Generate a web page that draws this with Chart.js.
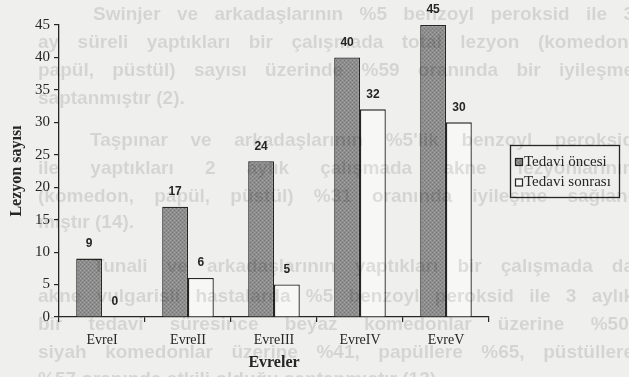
<!DOCTYPE html>
<html>
<head>
<meta charset="utf-8">
<script src="https://cdn.jsdelivr.net/npm/chart.js@4.4.1/dist/chart.umd.min.js"></script>
<style>
  html, body { margin: 0; padding: 0; background: #efefed; }
  #wrap { position: relative; width: 629px; height: 377px; overflow: hidden; background: #efefed; }
  #chart { position: absolute; left: 0; top: 0; }
  /* faint paragraph of the facing page, printed through the paper */
  #page { position: absolute; left: 0; top: 0; width: 629px; height: 377px; pointer-events: none;
          mix-blend-mode: multiply; color: rgba(0,0,0,0.11);
          font-family: "Liberation Sans", Arial, sans-serif; font-size: 19px; font-weight: bold; }
  #page div { position: absolute; height: 24px; line-height: 24px; overflow: hidden;
              white-space: normal; text-align: justify; text-align-last: justify; }
  #page div.last { text-align-last: left; }
</style>
</head>
<body>
<div id="wrap">
  <canvas id="chart" width="629" height="377"></canvas>
  <div id="page"></div>
</div>
<script>
// Lesion counts per acne stage, before and after treatment
const categories = ['EvreI', 'EvreII', 'EvreIII', 'EvreIV', 'EvreV'];
const seriesNames = ['Tedavi öncesi', 'Tedavi sonrası'];
const beforeTreatment = [9, 17, 24, 40, 45];
const afterTreatment = [0, 6, 5, 32, 30];
const yMax = 45;
const yStep = 5;
const xTitle = 'Evreler';
const yTitle = 'Lezyon sayısı';

// Paragraph lines of the page behind the figure: [text, left, centerY, isLastLine]
const pageLines = [
  ['Swinjer ve arkadaşlarının %5 benzoyl peroksid ile 3', 93, 14, false],
  ['ay süreli yaptıkları bir çalışmada total lezyon (komedon,', 38, 42, false],
  ['papül, püstül) sayısı üzerinde %59 oranında bir iyileşme', 38, 70, false],
  ['saptanmıştır (2).', 38, 98, true],
  ['Taşpınar ve arkadaşlarının %5\'lik benzoyl peroksid', 90, 140, false],
  ['ile yaptıkları 2 aylık çalışmada akne lezyonlarının', 38, 168, false],
  ['(komedon, papül, püstül) %31 oranında iyileşme sağlan-', 38, 196, false],
  ['mıştır (14).', 38, 222, true],
  ['Tunali ve arkadaşlarının yaptıkları bir çalışmada da', 93, 266, false],
  ['akne vulgarisli hastalarda %5 benzoyl peroksid ile 3 aylık', 38, 296, false],
  ['bir tedavi süresince beyaz komedonlar üzerine %50,', 38, 324, false],
  ['siyah komedonlar üzerine %41, papüllere %65, püstüllere', 38, 352, false],
  ['%57 oranında etkili olduğu saptanmıştır (13).', 38, 379, true]
];

const page = document.getElementById('page');
pageLines.forEach(([text, left, cy, last]) => {
  const d = document.createElement('div');
  d.textContent = text;
  d.style.left = left + 'px';
  d.style.width = (634 - left) + 'px';
  d.style.top = (cy - 12) + 'px';
  if (last) d.className = 'last';
  page.appendChild(d);
});

const serif = '"Liberation Serif", "Times New Roman", serif';
const ink = '#262626';

// stippled grey fill for the "before" bars
function stipple() {
  const c = document.createElement('canvas');
  c.width = 4; c.height = 4;
  const g = c.getContext('2d');
  g.fillStyle = '#8e8e8e'; g.fillRect(0, 0, 4, 4);
  g.fillStyle = '#747474'; g.fillRect(0, 0, 1, 1); g.fillRect(2, 2, 1, 1);
  g.fillStyle = '#a2a2a2'; g.fillRect(2, 0, 1, 1); g.fillRect(0, 2, 1, 1);
  return g.createPattern(c, 'repeat');
}
const darkFill = stipple();

// numbers printed above each bar
const valueLabels = {
  id: 'valueLabels',
  afterDatasetsDraw(chart) {
    const ctx = chart.ctx;
    ctx.save();
    ctx.font = 'bold 12px "Liberation Sans", Arial, sans-serif';
    ctx.fillStyle = ink;
    ctx.textAlign = 'center';
    ctx.textBaseline = 'middle';
    chart.data.datasets.forEach((ds, di) => {
      chart.getDatasetMeta(di).data.forEach((bar, i) => {
        ctx.fillText(String(ds.data[i]), bar.x, bar.y - 15);
      });
    });
    ctx.restore();
  }
};

// boxed legend to the right of the plot
const boxedLegend = {
  id: 'boxedLegend',
  afterDraw(chart) {
    const ctx = chart.ctx;
    const bx = 510.5, by = 145.5, bw = 109, bh = 52;
    ctx.save();
    ctx.strokeStyle = ink;
    ctx.lineWidth = 1.3;
    ctx.strokeRect(bx, by, bw, bh);
    ctx.font = '15px ' + serif;
    ctx.textBaseline = 'middle';
    ctx.textAlign = 'left';
    chart.data.datasets.forEach((ds, i) => {
      const cy = 162 + i * 20.5;
      ctx.fillStyle = ds.backgroundColor;
      ctx.fillRect(515.5, cy - 3.5, 7, 7);
      ctx.lineWidth = 1.2;
      ctx.strokeStyle = ink;
      ctx.strokeRect(515.5, cy - 3.5, 7, 7);
      ctx.fillStyle = ink;
      ctx.fillText(ds.label, 524, cy);
    });
    ctx.restore();
  }
};

new Chart(document.getElementById('chart'), {
  type: 'bar',
  data: {
    labels: categories,
    datasets: [
      { label: seriesNames[0], data: beforeTreatment, backgroundColor: darkFill,
        borderColor: ink, borderWidth: 1.3 },
      { label: seriesNames[1], data: afterTreatment, backgroundColor: '#f7f7f5',
        borderColor: ink, borderWidth: 1.3 }
    ]
  },
  options: {
    responsive: false,
    animation: false,
    categoryPercentage: 0.6,
    barPercentage: 1.0,
    layout: { padding: { left: 0, right: 140, top: 25, bottom: 0 } },
    plugins: { legend: { display: false }, tooltip: { enabled: false } },
    scales: {
      x: {
        grid: { drawOnChartArea: false, drawTicks: true, tickLength: 5, color: ink, lineWidth: 1.2, offset: true },
        border: { display: true, color: ink, width: 1.3 },
        ticks: { padding: 9.6, color: ink, font: { family: serif, size: 14 } },
        title: { display: true, text: xTitle, color: ink,
                 font: { family: serif, size: 16, weight: 'bold' }, padding: { top: 0, bottom: 4.7 } },
        afterFit(scale) { scale.height = 60; }
      },
      y: {
        min: 0, max: yMax,
        grid: { drawOnChartArea: false, drawTicks: true, tickLength: 5, color: ink, lineWidth: 1.2 },
        border: { display: true, color: ink, width: 1.3 },
        ticks: { stepSize: yStep, padding: 4, color: ink, font: { family: serif, size: 15 } },
        title: { display: true, text: yTitle, color: ink,
                 font: { family: serif, size: 16, weight: 'bold' }, padding: { top: 7.4, bottom: 0 } },
        afterFit(scale) { scale.width = 59; }
      }
    }
  },
  plugins: [valueLabels, boxedLegend]
});
</script>
</body>
</html>
